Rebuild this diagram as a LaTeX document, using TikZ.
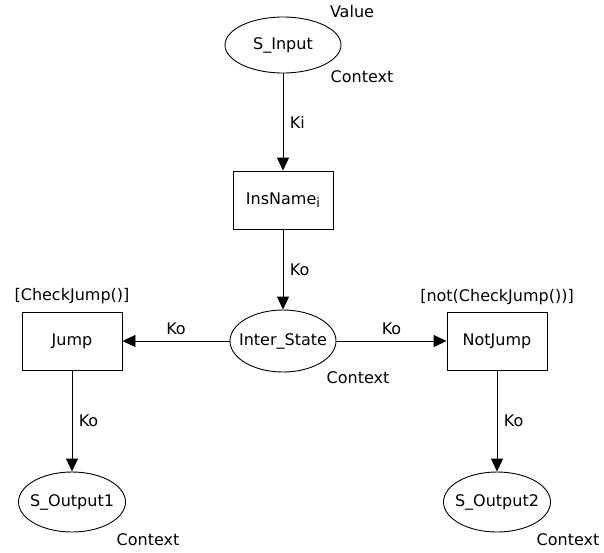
\documentclass[tikz,border=0pt]{standalone}
\usepackage{fontspec}
\setmainfont{DejaVu Sans}
\usetikzlibrary{arrows.meta,shapes.geometric}

% keep the ellipse size independent of its label
\newcommand{\plabel}[1]{\makebox[0pt]{#1}}
% lowered index of a transition name
\newcommand{\tidx}[1]{\raisebox{-3.5pt}{\fontsize{13}{14}\selectfont #1}}

\begin{document}
\begin{tikzpicture}[x=1pt,y=-1pt,line width=0.9pt,
  font=\fontsize{16}{19}\selectfont,
  place/.style={draw, ellipse, inner sep=0pt},
  trans/.style={draw, rectangle, minimum width=100pt, minimum height=58pt},
  arc/.style={-{Triangle[length=13pt,width=12pt]}}]
\useasboundingbox (0,0) rectangle (604,552);

% places and transitions
\node[place, minimum width=116pt, minimum height=56pt] (sinput) at (283,45) {\plabel{S\_Input}};
\node[trans] (insname) at (283,200) {InsName\tidx{i}};
\node[place, minimum width=106pt, minimum height=62pt] (inter) at (283,341) {\plabel{Inter\_State}};
\node[trans] (jump) at (72,341) {Jump};
\node[trans] (notjump) at (497,341) {NotJump};
\node[place, minimum width=107pt, minimum height=60pt] (sout1) at (72,502) {\plabel{S\_Output1}};
\node[place, minimum width=107pt, minimum height=60pt] (sout2) at (497,502) {\plabel{S\_Output2}};

% inscriptions
\node (val) at (352,12) {Value};
\node (ctx0) at (362,77) {Context};
\node (ctx1) at (358,378) {Context};
\node (ctx2) at (148,540) {Context};
\node (ctx3) at (568,540) {Context};
\node (grd1) at (72,296) {[CheckJump()]};
\node (grd2) at (497,297) {[not(CheckJump())]};

% arcs
\draw[arc] (sinput) -- node[right=3pt]{Ki} (insname);
\draw[arc] (insname) -- node[right=3pt, pos=0.5]{Ko} (inter);
\draw[arc] (inter) -- node[above=2pt]{Ko} (jump);
\draw[arc] (inter) -- node[above=2pt]{Ko} (notjump);
\draw[arc] (jump) -- node[right=3pt]{Ko} (sout1);
\draw[arc] (notjump) -- node[right=3pt]{Ko} (sout2);
\end{tikzpicture}
\end{document}
